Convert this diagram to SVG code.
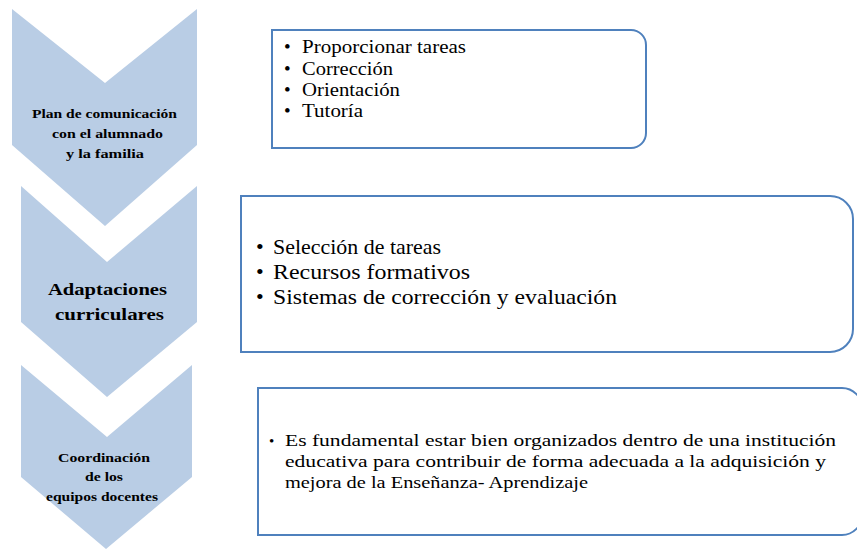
<svg xmlns="http://www.w3.org/2000/svg" width="857" height="550" viewBox="0 0 857 550">
<style>
.chev{fill:#b9cde5;stroke:none}
.box{fill:#ffffff;stroke:#4f81bd;stroke-width:2}
.lbl{font-family:"Liberation Serif","Times New Roman",serif;font-weight:bold;fill:#000;text-anchor:middle}
.txt{font-family:"Liberation Serif","Times New Roman",serif;fill:#000}
</style>
<rect width="857" height="550" fill="#ffffff"/>
<g id="connectors"/>
<g id="step1">
<polygon class="chev" points="12,9 105,83 197,9 197,145 105,226 12,145"/>
<text class="lbl" font-size="13" x="104.5" y="118" textLength="145" lengthAdjust="spacingAndGlyphs">Plan de comunicación</text>
<text class="lbl" font-size="13" x="107.5" y="138" textLength="111" lengthAdjust="spacingAndGlyphs">con el alumnado</text>
<text class="lbl" font-size="13" x="105" y="158" textLength="78" lengthAdjust="spacingAndGlyphs">y la familia</text>
</g>
<g id="step2">
<polygon class="chev" points="21,186 107,262 197,186 197,322 107,397 21,322"/>
<text class="lbl" font-size="17" x="107.5" y="295" textLength="119" lengthAdjust="spacingAndGlyphs">Adaptaciones</text>
<text class="lbl" font-size="17" x="109.5" y="320" textLength="109" lengthAdjust="spacingAndGlyphs">curriculares</text>
</g>
<g id="step3">
<polygon class="chev" points="21,365 107,437 192,365 192,477 106,549 21,477"/>
<text class="lbl" font-size="12.5" x="104" y="462" textLength="92" lengthAdjust="spacingAndGlyphs">Coordinación</text>
<text class="lbl" font-size="12.5" x="104" y="481" textLength="38" lengthAdjust="spacingAndGlyphs">de los</text>
<text class="lbl" font-size="12.5" x="102" y="501" textLength="112" lengthAdjust="spacingAndGlyphs">equipos docentes</text>
</g>
<g id="box1">
<path class="box" d="M272,30 H631 A15,15 0 0 1 646,45 V133 A15,15 0 0 1 631,148 H272 Z"/>
<g class="txt" font-size="19">
<text x="284" y="53">•</text><text x="302" y="53" textLength="164" lengthAdjust="spacingAndGlyphs">Proporcionar tareas</text>
<text x="284" y="74.5">•</text><text x="302" y="74.5" textLength="91" lengthAdjust="spacingAndGlyphs">Corrección</text>
<text x="284" y="96">•</text><text x="302" y="96" textLength="98" lengthAdjust="spacingAndGlyphs">Orientación</text>
<text x="284" y="117">•</text><text x="302" y="117" textLength="61" lengthAdjust="spacingAndGlyphs">Tutoría</text>
</g>
</g>
<g id="box2">
<path class="box" d="M241,196 H830 A23,23 0 0 1 853,219 V329 A23,23 0 0 1 830,352 H241 Z"/>
<g class="txt" font-size="22">
<text x="256" y="254">•</text><text x="273" y="254" textLength="168" lengthAdjust="spacingAndGlyphs">Selección de tareas</text>
<text x="256" y="279">•</text><text x="273" y="279" textLength="197" lengthAdjust="spacingAndGlyphs">Recursos formativos</text>
<text x="256" y="304">•</text><text x="273" y="304" textLength="344" lengthAdjust="spacingAndGlyphs">Sistemas de corrección y evaluación</text>
</g>
</g>
<g id="box3">
<path class="box" d="M258,388 H842 A20,20 0 0 1 862,408 V515 A20,20 0 0 1 842,535 H258 Z"/>
<g class="txt" font-size="17.5">
<text x="269" y="446" font-size="15">•</text>
<text x="285" y="446" textLength="551" lengthAdjust="spacingAndGlyphs">Es fundamental estar bien organizados dentro de una institución</text>
<text x="285" y="467" textLength="541" lengthAdjust="spacingAndGlyphs">educativa para contribuir de forma adecuada a la adquisición y</text>
<text x="285" y="488" textLength="303" lengthAdjust="spacingAndGlyphs">mejora de la Enseñanza- Aprendizaje</text>
</g>
</g>
</svg>
